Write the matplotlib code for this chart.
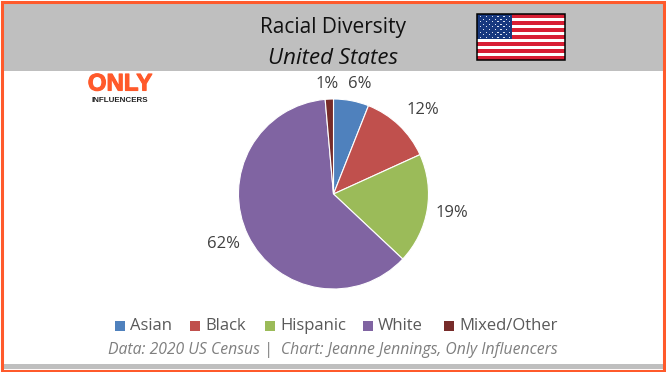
import matplotlib
matplotlib.use("Agg")
import matplotlib.pyplot as plt
import matplotlib.patheffects as pe
from matplotlib.patches import Rectangle

categories = ["Asian", "Black", "Hispanic", "White", "Mixed/Other"]
values = [6.0, 12.2, 18.8, 61.6, 1.4]
labels = ["6%", "12%", "19%", "62%", "1%"]
colors = ["#4F81BD", "#C0504D", "#9BBB59", "#8064A2", "#772C2A"]
W, H = 666, 372
FONT = "Open Sans"

fig = plt.figure(figsize=(W / 100, H / 100), dpi=100, facecolor="white")
bg = fig.add_axes([0, 0, 1, 1])
bg.set_xlim(0, W); bg.set_ylim(H, 0); bg.axis("off")

bg.add_patch(Rectangle((2, 2), W - 4, 69, fc="#BFBFBF", ec="none"))
bg.add_patch(Rectangle((2, 364), W - 4, 5, fc="#BFBFBF", ec="none"))
bg.add_patch(Rectangle((1.5, 1.5), W - 4, H - 3, fc="none", ec="#FF5A2B", lw=2.2, zorder=5))

bg.text(333.5, 28, "Racial Diversity", ha="center", va="center", fontsize=15, family=FONT, color="#111111")
bg.text(333.5, 58, "United States", ha="center", va="center", fontsize=16, family=FONT, style="italic", color="#111111")

# flag
fx, fy, fw, fh = 477, 14, 88, 46
for i in range(13):
    bg.add_patch(Rectangle((fx, fy + i * fh / 13), fw, fh / 13 + 0.2,
                           fc="#D81E34" if i % 2 == 0 else "white", ec="none"))
bg.add_patch(Rectangle((fx, fy), 35, 25, fc="#17387F", ec="none"))
for r in range(9):
    n = 6 if r % 2 == 0 else 5
    for c in range(n):
        sx = fx + 3 + c * 5.8 + (0 if r % 2 == 0 else 2.9)
        sy = fy + 2 + r * 2.6
        bg.add_patch(Rectangle((sx, sy), 1.4, 1.1, fc="#DDE3F0", ec="none"))
bg.add_patch(Rectangle((fx, fy), fw, fh, fc="none", ec="black", lw=1.1))

# logo
bg.text(120, 84, "ONLY", ha="center", va="center", fontsize=17.3, family="Liberation Sans",
        weight="bold", color="#FF5A2B",
        path_effects=[pe.withStroke(linewidth=0.8, foreground="#FF5A2B")])
bg.text(119.5, 100, "INFLUENCERS", ha="center", va="center", fontsize=5.8, family="Liberation Sans",
        weight="bold", color="#222222")

# pie
cx, cy, rad = 333.5, 194, 95
ax = fig.add_axes([(cx - rad) / W, 1 - (cy + rad) / H, 2 * rad / W, 2 * rad / H])
wedges, _ = ax.pie(values, colors=colors, startangle=90, counterclock=False, radius=1,
                   wedgeprops=dict(edgecolor="white", linewidth=0.8))
ax.set_xlim(-1, 1); ax.set_ylim(-1, 1); ax.set_aspect("equal")

label_pos = [(360, 84), (422.5, 109.5), (452, 213), (223, 244), (327, 84)]
for (x, y), t in zip(label_pos, labels):
    bg.text(x, y, t, ha="center", va="center", fontsize=12, family=FONT, color="#404040")

# legend
leg_x = [115, 190, 265, 363, 444]
for x, col, name in zip(leg_x, colors, categories):
    bg.add_patch(Rectangle((x, 321), 10, 10, fc=col, ec="none"))
    bg.text(x + 15, 326, name, ha="left", va="center", fontsize=12, family=FONT, color="#595959")

bg.text(333, 350, "Data: 2020 US Census |  Chart: Jeanne Jennings, Only Influencers",
        ha="center", va="center", fontsize=11.3, family=FONT, style="italic", color="#7F7F7F")

fig.savefig("out.png", dpi=100, facecolor="white")
